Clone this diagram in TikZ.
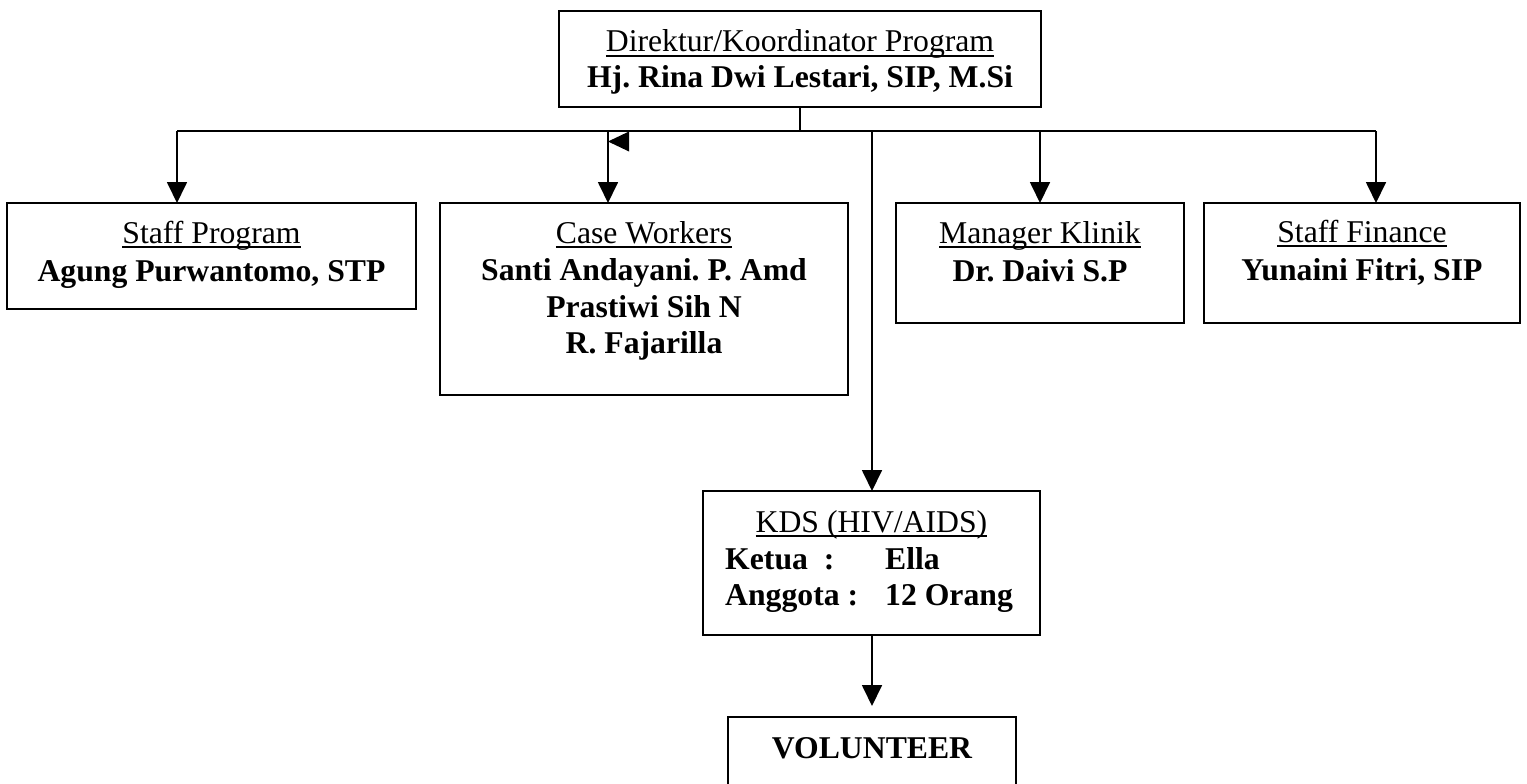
\documentclass[tikz,border=0pt]{standalone}
\usepackage{fontspec}
\setmainfont{Liberation Serif}
\usetikzlibrary{arrows.meta}
\frenchspacing
\newcommand\ulx[1]{\setbox0\hbox{#1}\rlap{\rule[-5pt]{\wd0}{1.8pt}}\box0}
\begin{document}
\begin{tikzpicture}[x=1pt,y=-1pt,
  box/.style={draw, line width=1.8pt, inner sep=0pt, outer sep=0pt, anchor=north west},
  lab/.style={anchor=base, inner sep=0pt, font=\fontsize{31.7}{37}\selectfont},
  blab/.style={anchor=base, inner sep=0pt, font=\fontsize{31.7}{37}\selectfont\bfseries},
  conn/.style={line width=1.8pt},
  arr/.style={conn, -{Triangle[width=20pt,length=21pt]}}]
\useasboundingbox (0,0) rectangle (1527,784);
\clip (0,0) rectangle (1527,784);
% boxes
\node[box, minimum width=482pt, minimum height=96pt] (dir) at (559,11) {};
\node[box, minimum width=409pt, minimum height=106pt] (sp) at (7,203) {};
\node[box, minimum width=408pt, minimum height=192pt] (cw) at (440,203) {};
\node[box, minimum width=288pt, minimum height=120pt] (mk) at (896,203) {};
\node[box, minimum width=316pt, minimum height=120pt] (sf) at (1204,203) {};
\node[box, minimum width=337pt, minimum height=144pt] (kds) at (703,491) {};
\node[box, minimum width=288pt, minimum height=110pt] (vol) at (728,717) {};
% texts
\node[lab] (dir1) at (800,52) {\ulx{Direktur/Koordinator Program}};
\node[blab] (dir2) at (800,88) {Hj. Rina Dwi Lestari, SIP, M.Si};
\node[lab] (sp1) at (211.5,243) {\ulx{Staff Program}};
\node[blab] (sp2) at (211.5,281) {Agung Purwantomo, STP};
\node[lab] (cw1) at (644,243) {\ulx{Case Workers}};
\node[blab] (cw2) at (644,280) {Santi Andayani. P. Amd};
\node[blab] (cw3) at (644,317) {Prastiwi Sih N};
\node[blab] (cw4) at (644,353) {R. Fajarilla};
\node[lab] (mk1) at (1040,243) {\ulx{Manager Klinik}};
\node[blab] (mk2) at (1040,281) {Dr. Daivi S.P};
\node[lab] (sf1) at (1362,242) {\ulx{Staff Finance}};
\node[blab] (sf2) at (1362,280) {Yunaini Fitri, SIP};
\node[lab] (kds1) at (871.5,532) {\ulx{KDS (HIV/AIDS)}};
\node[blab, anchor=base west] (kds2) at (725,569) {\makebox[160pt][l]{Ketua\ \ :}Ella};
\node[blab, anchor=base west] (kds3) at (725,605) {\makebox[160pt][l]{Anggota :}12 Orang};
\node[blab] (vol1) at (872,758) {VOLUNTEER};
% bus
\coordinate (j0) at (800,131);
\coordinate (a1) at (177,131);
\coordinate (a2) at (608,131);
\coordinate (a3) at (1040,131);
\coordinate (a4) at (1376,131);
\coordinate (a5) at (872,131);
\draw[conn] (dir.south -| j0) -- (j0);
\draw[conn] (a1) -- (a4);
\draw[arr] (a1) -- (a1 |- sp.north);
\draw[arr] (a2) -- (a2 |- cw.north);
\draw[arr] (a3) -- (a3 |- mk.north);
\draw[arr] (a4) -- (a4 |- sf.north);
\draw[arr] (a5) -- (a5 |- kds.north);
\draw[arr, shorten >=11pt] (kds.south -| a5) -- (vol.north -| a5);
% stray arrowhead
\fill[shift={(a2)}] (0,10.5) -- (21,0.5) -- (21,20.5) -- cycle;
\end{tikzpicture}
\end{document}
